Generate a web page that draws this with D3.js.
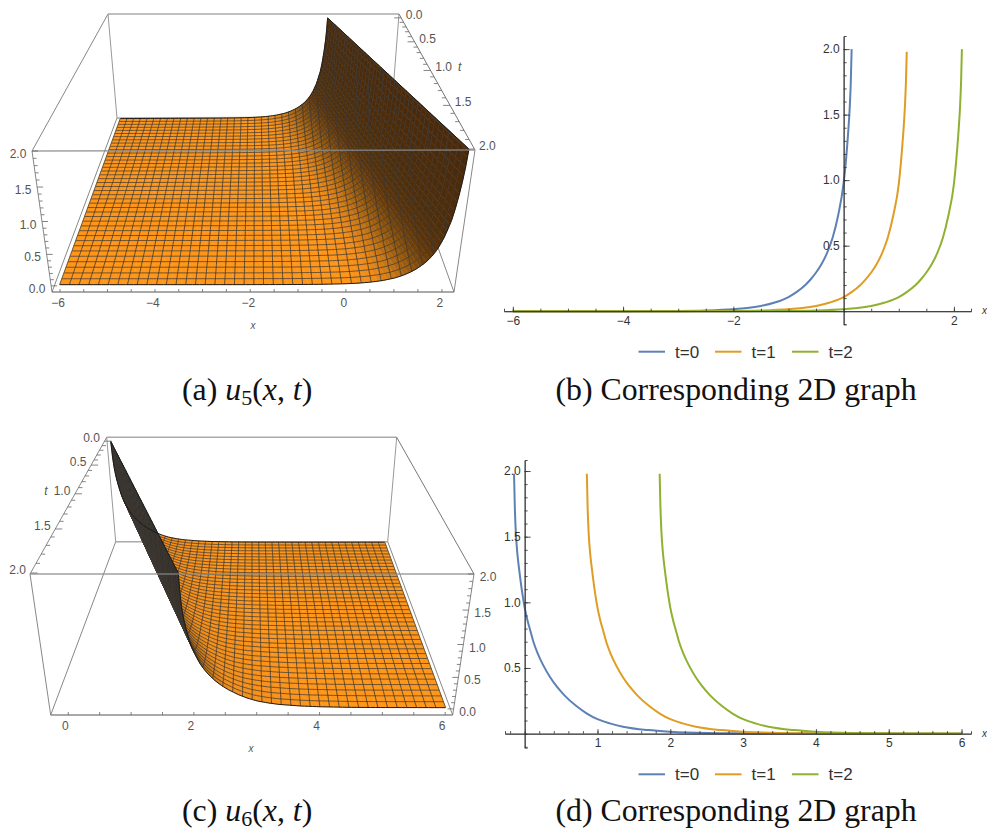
<!DOCTYPE html>
<html>
<head>
<meta charset="utf-8">
<script src="https://cdn.jsdelivr.net/npm/d3@7"></script>
<style>
  body { margin: 0; background: #fff; }
  svg { display: block; }
  text { font-family: "Liberation Sans", sans-serif; }
</style>
</head>
<body>
<svg id="chart" width="987" height="830"></svg>
<script>
// Values
const seriesNames = ['t=0', 't=1', 't=2'];
const seriesColors = ['#5E81B5', '#E19C24', '#8FB131'];

// (b) u5 curves
const b0X = [-6, -4, -3, -2.5, -2, -1.75, -1.5, -1.25, -1, -0.85, -0.7, -0.6, -0.5, -0.4, -0.3, -0.2, -0.1, 0, 0.04, 0.08, 0.11, 0.13, 0.145];
const b0Y = [0, 0.0003, 0.002, 0.0054, 0.0147, 0.024, 0.04, 0.066, 0.108, 0.147, 0.198, 0.242, 0.295, 0.36, 0.445, 0.56, 0.73, 0.98, 1.14, 1.35, 1.55, 1.75, 2];
const b1X = [-6, -3, -2, -1.5, -1, -0.75, -0.5, -0.25, 0, 0.15, 0.3, 0.4, 0.5, 0.6, 0.7, 0.8, 0.9, 1, 1.04, 1.08, 1.11, 1.13, 1.145];
const b1Y = [0, 0.0003, 0.002, 0.0054, 0.0147, 0.024, 0.04, 0.066, 0.107, 0.147, 0.198, 0.243, 0.295, 0.36, 0.445, 0.56, 0.73, 0.97, 1.14, 1.35, 1.55, 1.75, 1.98];
const b2X = [-6, -2, -1, -0.5, 0, 0.25, 0.5, 0.75, 1, 1.15, 1.3, 1.4, 1.5, 1.6, 1.7, 1.8, 1.9, 2, 2.04, 2.08, 2.11, 2.13, 2.145];
const b2Y = [0, 0.0003, 0.002, 0.0054, 0.0147, 0.024, 0.04, 0.066, 0.107, 0.147, 0.198, 0.242, 0.295, 0.36, 0.445, 0.56, 0.73, 0.97, 1.14, 1.35, 1.55, 1.75, 2];

// (d) u6 curves
const d0X = [-0.146, -0.135, -0.12, -0.1, -0.08, -0.06, -0.03, 0, 0.04, 0.08, 0.12, 0.18, 0.256, 0.35, 0.44, 0.55, 0.71, 0.85, 1, 1.17, 1.35, 1.7, 2, 2.5, 3, 4, 6];
const d0Y = [1.98, 1.72, 1.52, 1.37, 1.27, 1.18, 1.06, 0.96, 0.86, 0.78, 0.7, 0.61, 0.52, 0.43, 0.36, 0.29, 0.21, 0.155, 0.11, 0.078, 0.053, 0.027, 0.015, 0.005, 0.002, 0.0003, 0];
const d1X = [0.854, 0.865, 0.88, 0.9, 0.92, 0.94, 0.97, 1, 1.04, 1.08, 1.12, 1.18, 1.256, 1.35, 1.44, 1.55, 1.71, 1.85, 2, 2.17, 2.35, 2.7, 3, 3.5, 4, 5, 6];
const d1Y = [1.98, 1.72, 1.52, 1.37, 1.27, 1.18, 1.06, 0.96, 0.86, 0.78, 0.7, 0.61, 0.52, 0.43, 0.36, 0.29, 0.21, 0.155, 0.11, 0.078, 0.053, 0.027, 0.015, 0.005, 0.002, 0.0003, 0];
const d2X = [1.854, 1.865, 1.88, 1.9, 1.92, 1.94, 1.97, 2, 2.04, 2.08, 2.12, 2.18, 2.256, 2.35, 2.44, 2.55, 2.71, 2.85, 3, 3.17, 3.35, 3.7, 4, 4.5, 5, 6];
const d2Y = [1.98, 1.72, 1.52, 1.37, 1.27, 1.18, 1.06, 0.96, 0.86, 0.78, 0.7, 0.61, 0.52, 0.43, 0.36, 0.29, 0.21, 0.155, 0.11, 0.078, 0.053, 0.027, 0.015, 0.005, 0.002, 0.0003];

// Travelling profile of the surfaces, height against s = x - t
const prof5S = [-8, -6, -4, -3, -2.5, -2, -1.75, -1.5, -1.25, -1, -0.85, -0.7, -0.6, -0.5, -0.4, -0.3, -0.2, -0.1, 0, 0.04, 0.08, 0.11, 0.13, 0.145];
const prof5U = [0, 0, 0.0003, 0.002, 0.0054, 0.0147, 0.024, 0.04, 0.066, 0.108, 0.147, 0.198, 0.242, 0.295, 0.36, 0.445, 0.56, 0.73, 0.98, 1.14, 1.35, 1.55, 1.75, 2];
const prof6S = [-0.146, -0.135, -0.12, -0.1, -0.08, -0.06, -0.03, 0, 0.04, 0.08, 0.12, 0.18, 0.256, 0.35, 0.44, 0.55, 0.71, 0.85, 1, 1.17, 1.35, 1.7, 2, 2.5, 3, 4, 6];
const prof6U = [2, 1.72, 1.52, 1.37, 1.27, 1.18, 1.06, 0.96, 0.86, 0.78, 0.7, 0.61, 0.52, 0.43, 0.36, 0.29, 0.21, 0.155, 0.11, 0.078, 0.053, 0.027, 0.015, 0.005, 0.002, 0.0003, 0];

// Surface colour against s
const shade5S = [-2, -1.4, -1, -0.7, -0.45, -0.25, -0.1, 0.145];
const shade5C = ['#FF9618', '#F08C18', '#C87614', '#9A5C0F', '#74440D', '#5A330B', '#50300A', '#4A2A0A'];
const shade6S = [-0.146, 0, 0.25, 0.6, 2];
const shade6C = ['#2E2A26', '#423018', '#B06810', '#F08C18', '#FF9618'];

// Tick labels
const bXTicks = [-6, -4, -2, 2];
const dXTicks = [1, 2, 3, 4, 5, 6];
const yTicks2d = [0.5, 1, 1.5, 2];
const zTicks = [0, 0.5, 1, 1.5, 2];
const tTicks = [0, 0.5, 1, 1.5, 2];
const aXTicks = [-6, -4, -2, 0, 2];
const cXTicks = [0, 2, 4, 6];

const captions = [
    { x: 182, y: 400, head: '(a) ', sub: '5' },
    { x: 182, y: 821, head: '(c) ', sub: '6' }
];
const captions2d = [
    { x: 736, y: 400, text: '(b) Corresponding 2D graph' },
    { x: 736, y: 821, text: '(d) Corresponding 2D graph' }
];

const svg = d3.select('#chart');
const minusFmt = d => String(d).replace('-', '\u2212');
const fixed1 = d3.format('.1f');
const meshCount = 40;

// Projective map of the unit square on a quad, back-left, back-right, front-right, front-left
function quadMap(q) {
    const [[x0, y0], [x1, y1], [x2, y2], [x3, y3]] = q;
    const dx1 = x1 - x2, dx2 = x3 - x2, sx = x0 - x1 + x2 - x3;
    const dy1 = y1 - y2, dy2 = y3 - y2, sy = y0 - y1 + y2 - y3;
    const den = dx1 * dy2 - dx2 * dy1;
    const g = (sx * dy2 - dx2 * sy) / den;
    const h = (dx1 * sy - sx * dy1) / den;
    const a = x1 - x0 + g * x1, b = x3 - x0 + h * x3;
    const d = y1 - y0 + g * y1, e = y3 - y0 + h * y3;
    return (u, v) => {
        const w = g * u + h * v + 1;
        return [(a * u + b * v + x0) / w, (d * u + e * v + y0) / w];
    };
}

function drawSurface(cfg) {
    const g = svg.append('g');
    const floorMap = quadMap(cfg.floor), topMap = quadMap(cfg.top);
    const sx = d3.scaleLinear().domain(cfg.xBox).range([0, 1]);
    const st = d3.scaleLinear().domain(cfg.tBox).range([0, 1]);
    const sz = d3.scaleLinear().domain(cfg.zBox).range([0, 1]);
    const height = d3.scaleLinear().domain(cfg.profS).range(cfg.profU).clamp(true);
    const color = d3.scaleLinear().domain(cfg.shadeS).range(cfg.shadeC).clamp(true);
    const project = (x, t, z) => {
        const f = floorMap(sx(x), st(t)), c = topMap(sx(x), st(t));
        const zz = sz(z), k = zz / (zz + 1.1 * (1 - zz));
        return [f[0] + (c[0] - f[0]) * k, f[1] + (c[1] - f[1]) * k];
    };
    const line = d3.line();
    const edge = (a, b, col, w) => g.append('line')
        .attr('x1', a[0]).attr('y1', a[1]).attr('x2', b[0]).attr('y2', b[1])
        .attr('stroke', col).attr('stroke-width', w);

    const [fbl, fbr, ffr, ffl] = cfg.floor;
    const [tbl, tbr, tfr, tfl] = cfg.top;

    // Box edges behind the surface
    edge(tbl, tbr, '#aaa', 1.5);
    edge(fbl, fbr, '#aaa', 1.5);
    edge(tbl, fbl, '#999', 1);
    edge(tbr, fbr, '#999', 1);
    edge(fbl, ffl, '#888', 1);
    edge(fbr, ffr, '#888', 1);
    edge(tbl, tfl, '#888', 1);
    edge(tbr, tfr, '#777', 1);

    // Filled strips, back to front
    const ridgeX = t => t + cfg.ridgeS;
    const xAt = (t, q) => ridgeX(t) + (cfg.xFar - ridgeX(t)) * q * q;
    const rows = d3.range(0, meshCount), cols = d3.range(0, 70);
    const cells = [];
    rows.forEach(i => {
        const t0 = 2 * i / rows.length, t1 = 2 * (i + 1) / rows.length;
        cols.forEach(j => {
            const q0 = j / cols.length, q1 = (j + 1) / cols.length;
            const pts = [[t0, q0], [t0, q1], [t1, q1], [t1, q0]].map(([t, q]) => {
                const x = xAt(t, q);
                return project(x, t, height(x - t));
            });
            const xm = xAt((t0 + t1) / 2, (q0 + q1) / 2);
            cells.push({ pts, fill: color(xm - (t0 + t1) / 2) });
        });
    });
    g.append('g').selectAll('path').data(cells).join('path')
        .attr('d', d => line(d.pts) + 'Z')
        .attr('fill', d => d.fill)
        .attr('stroke', d => d.fill)
        .attr('stroke-width', 0.5);

    // Mesh lines of constant t
    const meshG = g.append('g').attr('fill', 'none').attr('stroke', '#3c3834')
        .attr('stroke-width', 1).attr('stroke-opacity', 0.82);
    const qs = d3.range(0, 91).map(d => d / 90);
    d3.range(1, meshCount).forEach(i => {
        const t = 2 * i / meshCount;
        meshG.append('path').attr('stroke-width', 0.9).attr('d', line(qs.map(q => {
            const x = xAt(t, q);
            return project(x, t, height(x - t));
        })));
    });
    // Mesh lines of constant x
    const xEnds = [Math.min(cfg.xFar, ridgeX(2)), Math.max(cfg.xFar, ridgeX(2))];
    if (cfg.ridgeS < 0) xEnds[0] = ridgeX(0);
    d3.range(1, meshCount).forEach(i => {
        const x = xEnds[0] + (xEnds[1] - xEnds[0]) * i / meshCount;
        const limit = x - cfg.ridgeS;
        // part of the t range that lies on the surface
        const a = cfg.ridgeS > 0 ? Math.max(0, limit) : 0;
        const b = cfg.ridgeS > 0 ? 2 : Math.min(2, limit);
        if (b <= a) return;
        const pts = d3.range(0, 161).map(k => {
            const t = a + (b - a) * k / 160;
            return project(x, t, height(x - t));
        });
        meshG.append('path').attr('d', line(pts));
    });

    // Surface outline
    const outline = g.append('g').attr('fill', 'none').attr('stroke', '#1c1c1c').attr('stroke-width', 1);
    [0, 2].forEach(t => {
        outline.append('path').attr('d', line(qs.map(q => {
            const x = xAt(t, q);
            return project(x, t, height(x - t));
        })));
    });
    outline.append('path').attr('d', line([0, 2].map(t => project(ridgeX(t), t, 2))));
    outline.append('path').attr('d', line([0, 2].map(t => project(cfg.xFar, t, 0))))
        .attr('stroke', '#6b5a3c');

    // Front edges over the surface
    edge(tfl, tfr, '#8a8a8a', 1.3).attr('stroke-opacity', 0.8);
    edge(ffl, tfl, '#888', 1);
    edge(ffr, tfr, '#888', 1);
    edge(ffl, ffr, '#555', 1);

    // Ticks and labels
    const ticks = g.append('g').attr('stroke', '#666').attr('stroke-width', 0.8);
    const labels = g.append('g').attr('fill', '#555').attr('font-size', 12)
        .attr('text-anchor', 'middle').attr('dominant-baseline', 'central');
    const tick = (p, dx, dy) => ticks.append('line')
        .attr('x1', p[0]).attr('y1', p[1]).attr('x2', p[0] + dx).attr('y2', p[1] + dy);

    const xBase = x => project(x, cfg.tBox[1], cfg.zBox[0]);
    d3.range(Math.ceil(cfg.xBox[0] * 2), Math.floor(cfg.xBox[1] * 2) + 1).forEach(i => tick(xBase(i / 2), 0, -3));
    labels.selectAll('.xl').data(cfg.xTicks).join('text')
        .attr('x', d => xBase(d)[0] + cfg.xLabelDx)
        .attr('y', d => xBase(d)[1] + 11)
        .text(minusFmt);
    labels.append('text').attr('x', cfg.xLabel[0]).attr('y', cfg.xLabel[1])
        .attr('font-size', 10).attr('font-style', 'italic').text('x');

    const zBase = z => project(cfg.zEdgeX, cfg.tBox[1], z);
    d3.range(0, 21).forEach(i => {
        const major = i % 5 === 0;
        tick(zBase(i / 10), cfg.zSide * (major ? -6 : -3.5), 0);
    });
    labels.selectAll('.zl').data(zTicks).join('text')
        .attr('x', d => zBase(d)[0] + cfg.zSide * 14)
        .attr('y', d => zBase(d)[1] + 3)
        .text(fixed1);

    const tBase = t => project(cfg.tEdgeX, t, cfg.zBox[1]);
    d3.range(0, 21).forEach(i => {
        const major = i % 5 === 0;
        tick(tBase(i / 10), -cfg.tSide * (major ? 7 : 4), 0);
    });
    labels.selectAll('.tl').data(tTicks).join('text')
        .attr('x', d => tBase(d)[0] + cfg.tSide * 13)
        .attr('y', d => tBase(d)[1] - 3)
        .text(fixed1);
    labels.append('text')
        .attr('x', tBase(1)[0] + cfg.tSide * 29)
        .attr('y', tBase(1)[1] - 3)
        .attr('font-style', 'italic').text('t');
}

function draw2d(cfg) {
    const g = svg.append('g');
    const x = d3.scaleLinear().domain(cfg.xDomain).range(cfg.xRange);
    const y = d3.scaleLinear().domain(cfg.yDomain).range(cfg.yRange);
    const line = d3.line().x(d => x(d[0])).y(d => y(d[1])).curve(d3.curveMonotoneX);

    cfg.series.forEach(([xs, ys], i) => {
        g.append('path')
            .attr('d', line(xs.map((v, k) => [v, ys[k]])))
            .attr('fill', 'none')
            .attr('stroke', seriesColors[i])
            .attr('stroke-width', 2);
    });

    const axes = g.append('g').attr('color', '#333').attr('stroke-opacity', 0.85);
    axes.append('g').attr('transform', `translate(0,${y(0)})`)
        .call(d3.axisBottom(x).tickValues(cfg.xMinor).tickSize(-2.5).tickFormat(''));
    axes.append('g').attr('transform', `translate(0,${y(0)})`)
        .call(d3.axisBottom(x).tickValues(cfg.xMajor).tickSize(-4.5).tickPadding(5).tickSizeOuter(0).tickFormat(minusFmt));
    axes.append('g').attr('transform', `translate(${x(0)},0)`)
        .call(d3.axisLeft(y).tickValues(d3.range(-1, 21).map(d => d / 10)).tickSize(-3).tickFormat(''));
    axes.append('g').attr('transform', `translate(${x(0)},0)`)
        .call(d3.axisLeft(y).tickValues(yTicks2d).tickSize(-6).tickPadding(4).tickSizeOuter(0).tickFormat(fixed1));
    axes.selectAll('text')
        .attr('font-size', 12).attr('font-family', '"Liberation Sans", sans-serif').attr('fill', '#333');

    g.append('text').attr('x', cfg.xRange[1] + 11).attr('y', y(0) + 3)
        .attr('font-size', 10).attr('font-style', 'italic').attr('fill', '#333').text('x');

    // Legend
    const legend = g.append('g').attr('transform', `translate(0,${cfg.legendY})`);
    const starts = [638.5, 715, 792];
    seriesNames.forEach((name, i) => {
        legend.append('line')
            .attr('x1', starts[i]).attr('x2', starts[i] + 26.5)
            .attr('stroke', seriesColors[i]).attr('stroke-width', 2);
        legend.append('text')
            .attr('x', starts[i] + 36.5).attr('y', 6)
            .attr('font-size', 17).attr('fill', '#333').text(name);
    });
}

drawSurface({
    floor: [[117, 118], [391, 117], [454, 292], [52, 292]],
    top: [[108, 14], [399, 14], [475, 150], [32, 151]],
    xBox: [-6.17, 2.25], tBox: [-0.09, 2.01], zBox: [-0.1, 2],
    xFar: -6, ridgeS: 0.145,
    profS: prof5S, profU: prof5U, shadeS: shade5S, shadeC: shade5C,
    xTicks: aXTicks, xLabel: [253, 325], xLabelDx: -2,
    zEdgeX: -6.17, zSide: -1, tEdgeX: 2.25, tSide: 1
});

drawSurface({
    floor: [[115.7, 541.7], [387.7, 541.7], [452.7, 715], [50.7, 715]],
    top: [[106.7, 437.3], [396.7, 437.3], [474, 574], [30, 574]],
    xBox: [-0.28, 6.12], tBox: [-0.09, 2.01], zBox: [-0.1, 2],
    xFar: 6, ridgeS: -0.146,
    profS: prof6S, profU: prof6U, shadeS: shade6S, shadeC: shade6C,
    xTicks: cXTicks, xLabel: [251, 748], xLabelDx: -3,
    zEdgeX: 6.12, zSide: 1, tEdgeX: -0.28, tSide: -1
});

draw2d({
    xDomain: [-6.16, 2.31], xRange: [504, 971],
    yDomain: [-0.1, 2.1], yRange: [324.3, 36],
    xMajor: bXTicks, xMinor: d3.range(-12, 5).map(d => d / 2),
    series: [[b0X, b0Y], [b1X, b1Y], [b2X, b2Y]],
    legendY: 351.7
});

draw2d({
    xDomain: [-0.27, 6.13], xRange: [505, 971],
    yDomain: [-0.107, 2.084], yRange: [747.7, 460],
    xMajor: dXTicks, xMinor: d3.range(-1, 31).map(d => d / 5),
    series: [[d0X, d0Y], [d1X, d1Y], [d2X, d2Y]],
    legendY: 774.3
});

// Captions
const capG = svg.append('g').attr('font-size', 31.8).attr('fill', '#111')
    .style('font-family', '"Liberation Serif", serif');
captions.forEach(c => {
    const t = capG.append('text').attr('x', c.x).attr('y', c.y).style('font-family', '"Liberation Serif", serif');
    t.append('tspan').text(c.head);
    t.append('tspan').attr('font-style', 'italic').text('u');
    t.append('tspan').attr('font-size', 22).attr('dy', 5).text(c.sub);
    t.append('tspan').attr('dy', -5).text('(');
    t.append('tspan').attr('font-style', 'italic').text('x');
    t.append('tspan').text(', ');
    t.append('tspan').attr('font-style', 'italic').text('t');
    t.append('tspan').text(')');
});
captions2d.forEach(c => {
    capG.append('text').attr('x', c.x).attr('y', c.y).attr('text-anchor', 'middle')
        .style('font-family', '"Liberation Serif", serif').text(c.text);
});
</script>
</body>
</html>
